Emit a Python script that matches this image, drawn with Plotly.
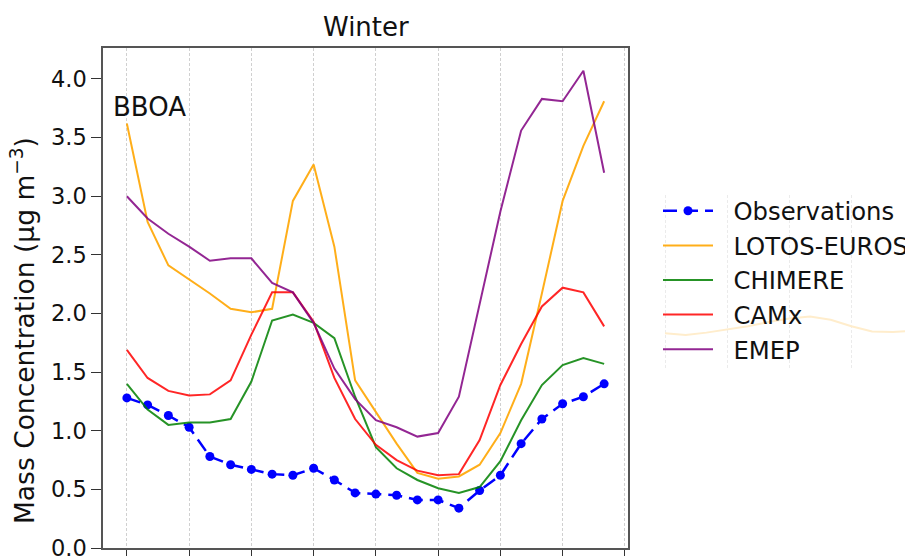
import plotly.graph_objects as go

# Diurnal cycle of BBOA mass concentration, winter
hours = list(range(24))

observations = [1.28, 1.22, 1.13, 1.03, 0.78, 0.71, 0.67, 0.63, 0.62, 0.68, 0.58, 0.47,
                0.46, 0.45, 0.41, 0.41, 0.34, 0.49, 0.62, 0.89, 1.10, 1.23, 1.29, 1.40]
lotos_euros = [3.62, 2.78, 2.41, 2.29, 2.17, 2.04, 2.01, 2.04, 2.96, 3.27, 2.57, 1.43,
               1.16, 0.89, 0.64, 0.59, 0.61, 0.71, 0.98, 1.40, 2.17, 2.96, 3.43, 3.81]
chimere = [1.40, 1.18, 1.05, 1.07, 1.07, 1.10, 1.42, 1.94, 1.99, 1.92, 1.79, 1.29,
           0.86, 0.68, 0.58, 0.51, 0.47, 0.52, 0.74, 1.09, 1.39, 1.56, 1.62, 1.57]
camx = [1.69, 1.45, 1.34, 1.30, 1.31, 1.43, 1.82, 2.18, 2.18, 1.93, 1.45, 1.10,
        0.88, 0.75, 0.66, 0.62, 0.63, 0.92, 1.39, 1.74, 2.06, 2.22, 2.18, 1.89]
emep = [3.00, 2.81, 2.68, 2.57, 2.45, 2.47, 2.47, 2.26, 2.18, 1.92, 1.53, 1.27,
        1.09, 1.03, 0.95, 0.98, 1.29, 2.08, 2.87, 3.56, 3.83, 3.81, 4.07, 3.20]

# Neighbouring panel, partly seen through the translucent legend box
next_panel_hours = list(range(13))
next_panel_lotos = [1.83, 1.815, 1.835, 1.86, 1.89, 1.925, 1.955, 1.972, 1.945, 1.89,
                    1.845, 1.84, 1.85]

y_ticks = [0.0, 0.5, 1.0, 1.5, 2.0, 2.5, 3.0, 3.5, 4.0]
x_ticks = list(range(0, 25, 3))

W, H = 905, 556
FONT = "DejaVu Sans"
NBSP = "\u00a0"


def px_x(p):
    return p / W


def px_y(p):
    return (H - p) / H


fig = go.Figure()

# faint panel behind the legend
fig.add_trace(go.Scatter(
    x=next_panel_hours, y=next_panel_lotos, mode="lines",
    line=dict(color="#ffedcc", width=2), xaxis="x2", yaxis="y2",
    showlegend=False, hoverinfo="skip"))

fig.add_trace(go.Scatter(
    x=hours, y=observations, mode="lines+markers", name=NBSP * 2 + "Observations",
    line=dict(color="#0000ff", width=2.5, dash="14px,7px"),
    marker=dict(color="#0000ff", size=9)))
series = [("LOTOS-EUROS", lotos_euros, "rgba(255,165,0,0.9)"),
          ("CHIMERE", chimere, "rgba(0,128,0,0.85)"),
          ("CAMx", camx, "rgba(255,0,0,0.85)"),
          ("EMEP", emep, "rgba(128,0,128,0.85)")]
for name, vals, col in series:
    fig.add_trace(go.Scatter(x=hours, y=vals, mode="lines", name=NBSP * 2 + name,
                             line=dict(color=col, width=2)))

fig.update_layout(
    width=W, height=H,
    margin=dict(l=0, r=0, t=0, b=0, autoexpand=False),
    paper_bgcolor="white", plot_bgcolor="white",
    font=dict(family=FONT, color="#111111"),
    xaxis=dict(
        domain=[px_x(103), px_x(628)], range=[-1.15, 24.15],
        tickvals=x_ticks, showticklabels=False,
        ticks="outside", ticklen=10, tickwidth=1.2, tickcolor="#333333",
        showgrid=True, gridcolor="#d0d0d0", gridwidth=1, griddash="3px,2px",
        showline=True, linecolor="#555555", linewidth=1.5, mirror=True,
        zeroline=False, automargin=False),
    yaxis=dict(
        domain=[px_y(548), px_y(48)], range=[0, 4.264],
        tickvals=y_ticks, tickformat=".1f", ticklabeloverflow="allow",
        ticks="outside", ticklen=10, tickwidth=1.2, tickcolor="#333333",
        tickfont=dict(size=22.5, family=FONT, color="#111111"),
        showgrid=False,
        showline=True, linecolor="#555555", linewidth=1.5, mirror=True,
        zeroline=False, automargin=False),
    xaxis2=dict(
        domain=[px_x(652), 1.0], anchor="y2",
        range=[(652 - 665) / 20.71, (905 - 665) / 20.71],
        tickvals=[0, 3, 6, 9], showticklabels=False, ticks="",
        showgrid=True, gridcolor="#ebebeb", gridwidth=1, griddash="3px,2px",
        showline=False, zeroline=False),
    yaxis2=dict(
        domain=[px_y(368), px_y(195)], anchor="x2",
        range=[(547.6 - 368) / 117.15, (547.6 - 195) / 117.15],
        showticklabels=False, showgrid=False, showline=False, zeroline=False,
        ticks=""),
    legend=dict(
        x=px_x(658), y=px_y(188.5), xanchor="left", yanchor="top",
        bgcolor="rgba(0,0,0,0)", borderwidth=0,
        font=dict(size=24.3, family=FONT, color="#111111"),
        itemwidth=50),
    annotations=[
        dict(text="Winter", x=px_x(365.5), y=px_y(27), xref="paper", yref="paper",
             xanchor="center", yanchor="middle", showarrow=False,
             font=dict(size=26, family=FONT, color="#111111")),
        dict(text="BBOA", x=px_x(111), y=px_y(107), xref="paper", yref="paper",
             xanchor="left", yanchor="middle", showarrow=False,
             font=dict(size=26, family=FONT, color="#111111")),
        dict(text="Mass Concentration (µg m<sup>−3</sup>)", textangle=-90,
             x=px_x(23), y=px_y(331), xref="paper", yref="paper",
             xanchor="center", yanchor="middle", showarrow=False,
             font=dict(size=26.5, family=FONT, color="#111111")),
    ],
)

fig.write_html("out.html")
